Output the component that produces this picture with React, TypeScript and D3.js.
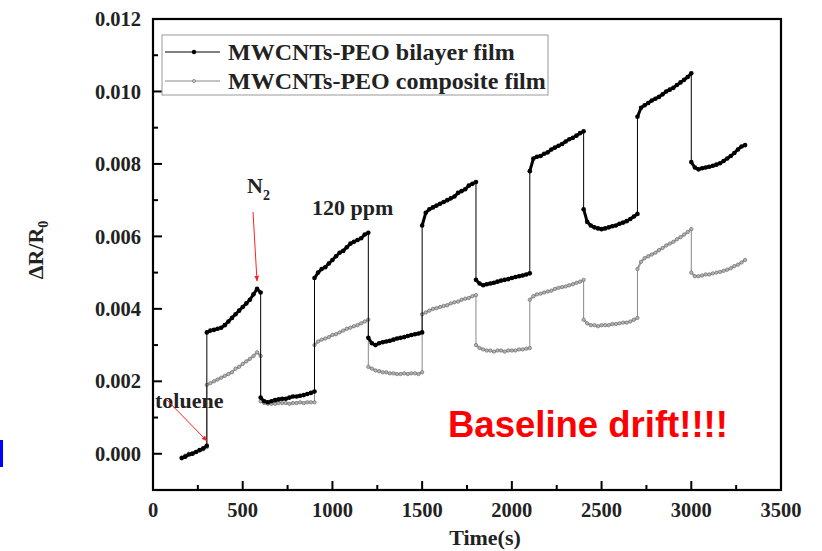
import React from 'react';
import * as d3 from 'd3';

// Sample spacing (s) within each exposure / purge segment
const STEP = 20;
// Start time (s) of each segment
const segStarts = [160, 300, 600, 900, 1200, 1500, 1800, 2100, 2400, 2700, 3000];

// ΔR/R0 values ×1e-3, MWCNTs-PEO bilayer film
const bilayer: number[][] = [
  [-0.12, -0.08, -0.02, 0.0, 0.05, 0.1, 0.15, 0.22],
  [3.35, 3.4, 3.42, 3.45, 3.48, 3.55, 3.65, 3.75, 3.85, 3.95, 4.05, 4.15, 4.25, 4.4, 4.55, 4.45],
  [1.55, 1.45, 1.42, 1.45, 1.48, 1.5, 1.52, 1.52, 1.55, 1.58, 1.58, 1.6, 1.62, 1.65, 1.68, 1.72],
  [4.85, 5.0, 5.1, 5.15, 5.25, 5.35, 5.45, 5.55, 5.6, 5.7, 5.8, 5.85, 5.9, 5.95, 6.05, 6.1],
  [3.2, 3.05, 3.0, 3.05, 3.08, 3.1, 3.12, 3.15, 3.18, 3.2, 3.22, 3.25, 3.28, 3.3, 3.32, 3.35],
  [6.3, 6.65, 6.75, 6.8, 6.85, 6.9, 6.95, 7.0, 7.05, 7.1, 7.2, 7.25, 7.3, 7.4, 7.45, 7.5],
  [4.8, 4.7, 4.65, 4.68, 4.7, 4.72, 4.75, 4.78, 4.8, 4.82, 4.85, 4.88, 4.9, 4.92, 4.95, 4.98],
  [7.8, 8.15, 8.2, 8.22, 8.28, 8.32, 8.4, 8.45, 8.5, 8.55, 8.62, 8.68, 8.72, 8.78, 8.85, 8.9],
  [6.75, 6.4, 6.3, 6.25, 6.22, 6.2, 6.22, 6.25, 6.28, 6.3, 6.35, 6.38, 6.42, 6.48, 6.55, 6.62],
  [9.3, 9.55, 9.62, 9.68, 9.75, 9.8, 9.85, 9.92, 10.0, 10.05, 10.1, 10.18, 10.25, 10.32, 10.4, 10.5],
  [8.05, 7.9, 7.85, 7.88, 7.9, 7.92, 7.95, 7.98, 8.02, 8.08, 8.15, 8.22, 8.3, 8.4, 8.48, 8.52],
];

// ΔR/R0 values ×1e-3, MWCNTs-PEO composite film
const composite: number[][] = [
  [-0.1, -0.05, 0.0, 0.02, 0.05, 0.1, 0.12, 0.18],
  [1.9, 1.95, 2.0, 2.05, 2.1, 2.15, 2.2, 2.25, 2.35, 2.4, 2.48, 2.55, 2.62, 2.7, 2.8, 2.7],
  [1.45, 1.4, 1.38, 1.38, 1.38, 1.4, 1.4, 1.4, 1.38, 1.4, 1.4, 1.42, 1.4, 1.42, 1.42, 1.42],
  [3.0, 3.1, 3.15, 3.18, 3.22, 3.28, 3.3, 3.35, 3.4, 3.45, 3.48, 3.52, 3.55, 3.6, 3.65, 3.7],
  [2.4, 2.35, 2.3, 2.28, 2.25, 2.25, 2.22, 2.22, 2.2, 2.2, 2.22, 2.2, 2.22, 2.22, 2.2, 2.25],
  [3.85, 3.9, 3.95, 4.0, 4.02, 4.05, 4.08, 4.1, 4.15, 4.18, 4.2, 4.25, 4.28, 4.3, 4.35, 4.38],
  [3.0, 2.92, 2.88, 2.85, 2.85, 2.82, 2.85, 2.85, 2.82, 2.85, 2.85, 2.85, 2.88, 2.88, 2.9, 2.92],
  [4.25, 4.35, 4.4, 4.42, 4.45, 4.48, 4.5, 4.55, 4.58, 4.6, 4.62, 4.65, 4.68, 4.72, 4.75, 4.8],
  [3.7, 3.6, 3.55, 3.55, 3.52, 3.55, 3.55, 3.55, 3.58, 3.58, 3.6, 3.62, 3.62, 3.65, 3.7, 3.75],
  [5.1, 5.3, 5.4, 5.45, 5.5, 5.55, 5.62, 5.68, 5.75, 5.8, 5.85, 5.92, 5.98, 6.05, 6.12, 6.2],
  [5.0, 4.9, 4.9, 4.92, 4.95, 4.95, 4.98, 5.0, 5.02, 5.05, 5.08, 5.12, 5.18, 5.22, 5.28, 5.35],
];
const UNIT = 1e-3;

const xTicks = [0, 500, 1000, 1500, 2000, 2500, 3000, 3500];
const xMinorTicks = [250, 750, 1250, 1750, 2250, 2750, 3250];
const yTicks = [0, 0.002, 0.004, 0.006, 0.008, 0.01, 0.012];
const yTickLabels = ['0.000', '0.002', '0.004', '0.006', '0.008', '0.010', '0.012'];
const yMinorTicks = [0.001, 0.003, 0.005, 0.007, 0.009, 0.011];
const seriesNames = ['MWCNTs-PEO bilayer film', 'MWCNTs-PEO composite film'];

type P = { t: number; v: number };
const toSegs = (segs: number[][]): P[][] =>
  segs.map((seg, i) => seg.map((v, j) => ({ t: segStarts[i] + j * STEP, v: v * UNIT })));

const serif = '"Liberation Serif", "Times New Roman", serif';

export default function App() {
  const x = d3.scaleLinear().domain([0, 3500]).range([153, 781]);
  const y = d3.scaleLinear().domain([-0.001, 0.012]).range([490, 19]);
  const line = d3.line<P>().x((d) => x(d.t)).y((d) => y(d.v));
  const bSegs = toSegs(bilayer);
  const cSegs = toSegs(composite);
  const [x0, x1] = x.range();
  const [yb, yt] = y.range();

  const drawSeries = (segs: P[][], key: string, color: string, width: number, thin: string, dot: (d: P, k: string) => React.ReactNode) => (
    <g>
      {segs.slice(1).map((s, i) => {
        const a = segs[i][segs[i].length - 1];
        const b = s[0];
        return <line key={key + 'j' + i} x1={x(a.t)} y1={y(a.v)} x2={x(b.t)} y2={y(b.v)} stroke={thin} strokeWidth={1} />;
      })}
      {segs.map((s, i) => (
        <path key={key + 's' + i} d={line(s) || ''} fill="none" stroke={color} strokeWidth={width} strokeLinejoin="round" />
      ))}
      {segs.flat().map((d, i) => dot(d, key + 'd' + i))}
    </g>
  );

  return (
    <svg
      width={822}
      height={551}
      style={{ position: 'absolute', left: 0, top: 0, background: '#fff' }}
      fontFamily={serif}
    >
      <defs>
        <marker id="arr" viewBox="0 0 10 10" refX="9" refY="5" markerWidth="6" markerHeight="6" orient="auto">
          <path d="M0,1 L10,5 L0,9 Z" fill="#ff2020" />
        </marker>
      </defs>
      <rect x={0} y={0} width={822} height={551} fill="#fff" />

      {drawSeries(cSegs, 'c', '#9a9a9a', 2, '#888', (d, k) => (
        <circle key={k} cx={x(d.t)} cy={y(d.v)} r={1.7} fill="#b5b5b5" stroke="#6f6f6f" strokeWidth={0.7} />
      ))}
      {drawSeries(bSegs, 'b', '#000', 3, '#000', (d, k) => (
        <circle key={k} cx={x(d.t)} cy={y(d.v)} r={2.3} fill="#000" />
      ))}

      {/* frame */}
      <rect x={x0} y={yt} width={x1 - x0} height={yb - yt} fill="none" stroke="#000" strokeWidth={2.2} />

      {/* y ticks */}
      {yTicks.map((t, i) => (
        <g key={'yt' + i}>
          <line x1={x0} x2={x0 + 9} y1={y(t)} y2={y(t)} stroke="#000" strokeWidth={2} />
          <text x={141} y={y(t)} dy="0.35em" textAnchor="end" fontSize={20.5} fontWeight="bold" fill="#222">
            {yTickLabels[i]}
          </text>
        </g>
      ))}
      {yMinorTicks.map((t, i) => (
        <line key={'ym' + i} x1={x0} x2={x0 + 5} y1={y(t)} y2={y(t)} stroke="#000" strokeWidth={2} />
      ))}

      {/* x ticks */}
      {xTicks.map((t, i) => (
        <g key={'xt' + i}>
          <line x1={x(t)} x2={x(t)} y1={yb} y2={yb - 9} stroke="#000" strokeWidth={2} />
          <text x={x(t)} y={517} textAnchor="middle" fontSize={20.5} fontWeight="bold" fill="#222">
            {String(t)}
          </text>
        </g>
      ))}
      {xMinorTicks.map((t, i) => (
        <line key={'xm' + i} x1={x(t)} x2={x(t)} y1={yb} y2={yb - 5} stroke="#000" strokeWidth={2} />
      ))}

      {/* axis titles */}
      <text x={485} y={545} textAnchor="middle" fontSize={22} fontWeight="bold" fill="#222">
        Time(s)
      </text>
      <text transform="translate(43,250) rotate(-90)" textAnchor="middle" fontSize={22} fontWeight="bold" fill="#222">
        ΔR/R<tspan fontSize={14} dy={5}>0</tspan>
      </text>

      {/* legend */}
      <rect x={162} y={35} width={386} height={60} fill="#fff" stroke="#999" strokeWidth={1} />
      <line x1={165} x2={220} y1={52} y2={52} stroke="#000" strokeWidth={1} />
      <circle cx={194} cy={52} r={2.2} fill="#000" />
      <text x={228} y={60} fontSize={24} fontWeight="bold" fill="#222">{seriesNames[0]}</text>
      <line x1={165} x2={220} y1={81} y2={81} stroke="#888" strokeWidth={1} />
      <circle cx={194} cy={81} r={1.6} fill="#c8c8c8" stroke="#777" strokeWidth={0.7} />
      <text x={228} y={89} fontSize={24} fontWeight="bold" fill="#222">{seriesNames[1]}</text>

      {/* annotations */}
      <text x={247} y={193} fontSize={22} fontWeight="bold" fill="#222">
        N<tspan fontSize={14} dy={7}>2</tspan>
      </text>
      <line x1={253} y1={212} x2={257} y2={281} stroke="#ff2020" strokeWidth={1} markerEnd="url(#arr)" />
      <text x={312} y={215} fontSize={22} fontWeight="bold" fill="#222">120 ppm</text>
      <text x={155} y={408} fontSize={22} fontWeight="bold" fill="#222">toluene</text>
      <line x1={165} y1={398} x2={207} y2={441} stroke="#ff2020" strokeWidth={1} markerEnd="url(#arr)" />

      <text x={448} y={437} fontFamily='"Liberation Sans", Arial, sans-serif' fontSize={36.5} fontWeight="bold" fill="#ff0000">
        Baseline drift!!!!
      </text>

      <rect x={0} y={440} width={3} height={27} fill="#0000ff" />
    </svg>
  );
}
